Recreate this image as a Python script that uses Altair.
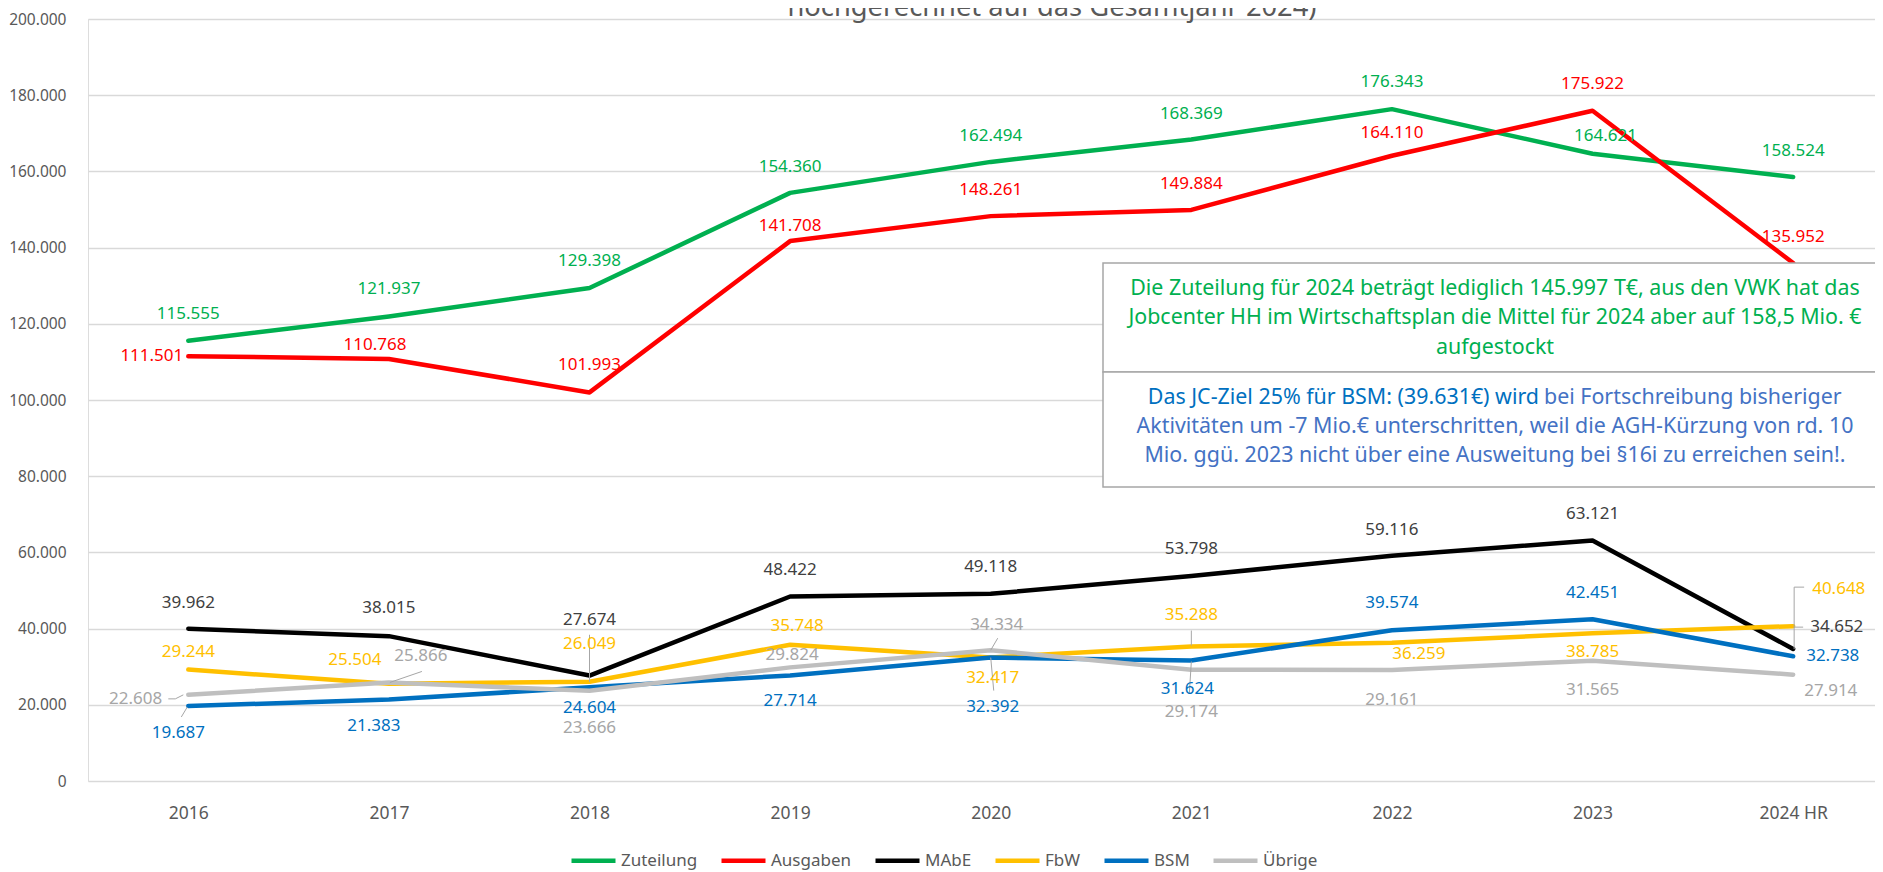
import altair as alt
import pandas as pd

# ---------------- data ----------------
years = ["2016", "2017", "2018", "2019", "2020", "2021", "2022", "2023", "2024 HR"]
series = ["Zuteilung", "Ausgaben", "MAbE", "FbW", "BSM", "Übrige"]
zuteilung = [115555, 121937, 129398, 154360, 162494, 168369, 176343, 164621, 158524]
ausgaben = [111501, 110768, 101993, 141708, 148261, 149884, 164110, 175922, 135952]
mabe = [39962, 38015, 27674, 48422, 49118, 53798, 59116, 63121, 34652]
fbw = [29244, 25504, 26049, 35748, 32417, 35288, 36259, 38785, 40648]
bsm = [19687, 21383, 24604, 27714, 32392, 31624, 39574, 42451, 32738]
uebrige = [22608, 25866, 23666, 29824, 34334, 29174, 29161, 31565, 27914]
values = [zuteilung, ausgaben, mabe, fbw, bsm, uebrige]
y_ticks = [0, 20000, 40000, 60000, 80000, 100000, 120000, 140000, 160000, 180000, 200000]

title_text = "hochgerechnet auf das Gesamtjahr 2024)"
box1_lines = [
    "Die Zuteilung für 2024 beträgt lediglich 145.997 T€, aus den VWK hat das",
    "Jobcenter HH im Wirtschaftsplan die Mittel für 2024 aber auf 158,5 Mio. €",
    "aufgestockt",
]
box2_first_a = "Das JC-Ziel 25% für BSM: (39.631€) wird"
box2_first_b = "bei Fortschreibung bisheriger"
box2_lines = [
    "Aktivitäten um -7 Mio.€ unterschritten, weil die AGH-Kürzung von rd. 10",
    "Mio. ggü. 2023 nicht über eine Ausweitung bei §16i zu erreichen sein!.",
]

# ---------------- styles / layout ----------------
line_colors = ["#00B050", "#FF0000", "#000000", "#FFC000", "#0070C0", "#BFBFBF"]
label_colors = ["#00B050", "#FF0000", "#404040", "#FFC000", "#0070C0", "#A6A6A6"]
FONT = "Noto Sans"
W, H = 1787, 762
PAD = {"left": 80, "top": 11, "right": 0, "bottom": 91}
X_MAX = 8.408
BOX_FS = 21.4

# label offsets (dx, dy, align) per series per year
D = (0, -26, "center")
label_pos = {
    "Zuteilung": [(0, -27, "center"), (0, -27, "center"), (0, -27, "center"), D, D, D,
                  (0, -27, "center"), (13, -18, "center"), D],
    "Ausgaben": [(-5, 0, "right"), (-14, -14, "center"), (0, -27, "center"), (0, -15, "center"),
                 D, D, (0, -23, "center"), (0, -27, "center"), D],
    "MAbE": [D, (0, -28, "center"), (0, -56, "center"), (0, -27, "center"), (0, -27, "center"),
             (0, -27, "center"), D, (0, -27, "center"), (17, -22, "left")],
    "FbW": [(0, -18, "center"), (-34, -24, "center"), (0, -38, "center"), (7, -19, "center"),
            (2, 21, "center"), (0, -32, "center"), (27, 11, "center"), (0, 19, "center"),
            (19, -37, "left")],
    "BSM": [(-10, 27, "center"), (-15, 26, "center"), (0, 21, "center"), (0, 26, "center"),
            (2, 49, "center"), (-4, 28, "center"), (0, -27, "center"), D, (13, 0, "left")],
    "Übrige": [(-26, 4, "right"), (32, -26, "center"), (0, 37, "center"), (2, -12, "center"),
               (6, -25, "center"), (0, 42, "center"), (0, 30, "center"), (0, 29, "center"),
               (11, 16, "left")],
}
# leader lines: (series, year index, dx1, dy1, dx2, dy2)
leaders = [
    ("Übrige", 0, -20, 4, -13, 4), ("Übrige", 0, -13, 4, -5, 0),
    ("BSM", 0, -7, 11, -1, 1),
    ("Übrige", 1, 33, -11, 1, 0),
    ("FbW", 2, 0, -47, 0, 0),
    ("Übrige", 4, 7, -12, 0, 0),
    ("BSM", 4, 0, 0, 3, 33),
    ("FbW", 5, 0, -16, 0, -1),
    ("BSM", 5, 0, 1, -2, 33),
    ("FbW", 8, 1, -39, 1, 23), ("FbW", 8, 1, -39, 11, -39), ("FbW", 8, 1, 1, 10, 1),
]

# ---------------- table ----------------
rows = []
for s, vals in zip(series, values):
    for i, v in enumerate(vals):
        rows.append({"series": s, "idx": i, "year": years[i], "value": v,
                     "label": f"{v:,}".replace(",", "."), "key": f"{s}|{i}"})
df = pd.DataFrame(rows)

year_js = "[" + ",".join(f"'{y}'" for y in years) + "]"
x_enc = alt.X("idx:Q", scale=alt.Scale(domain=[-0.5, X_MAX], nice=False, zero=False),
              axis=alt.Axis(values=list(range(len(years))), labelExpr=f"{year_js}[datum.value]",
                            grid=False, domain=False, ticks=False, title=None, labelPadding=23,
                            labelFontSize=17.5, labelColor="#595959", labelFont=FONT,
                            labelFlush=False, labelOverlap=False))
y_enc = alt.Y("value:Q", scale=alt.Scale(domain=[0, 200000], nice=False, zero=True),
              axis=alt.Axis(values=y_ticks, labelExpr="replace(format(datum.value, ','), ',', '.')",
                            grid=True, gridColor="#D9D9D9", gridWidth=1.5, domain=False, ticks=False,
                            title=None, labelPadding=22, labelFontSize=15.5, labelColor="#595959",
                            labelFont=FONT))
color_enc = alt.Color("series:N", scale=alt.Scale(domain=series, range=line_colors),
                      sort=series,
                      legend=alt.Legend(orient="none", legendX=481, legendY=817,
                                        direction="horizontal", title=None, symbolType="stroke",
                                        symbolSize=1936, symbolStrokeWidth=4.5, labelFontSize=17,
                                        labelColor="#595959", labelFont=FONT, labelOffset=3,
                                        columnPadding=14, padding=0))

base = alt.Chart(df)
layers = []
for s in series:
    layers.append(base.transform_filter(alt.datum.series == s)
                  .mark_line(strokeWidth=4.5, strokeCap="round", strokeJoin="round")
                  .encode(x=x_enc, y=y_enc, color=color_enc))

# annotation boxes
one = alt.Chart(pd.DataFrame({"t": [""]}))
box_x, box_x2 = 1015, 1810
layers.append(one.mark_rect(fill="white", stroke="#A6A6A6", strokeWidth=1.5)
              .encode(x=alt.value(box_x), x2=alt.value(box_x2), y=alt.value(244), y2=alt.value(353)))
layers.append(one.mark_rect(fill="white", stroke="#A6A6A6", strokeWidth=1.5)
              .encode(x=alt.value(box_x), x2=alt.value(box_x2), y=alt.value(353), y2=alt.value(468)))
cx = 1407
for txt, yy in zip(box1_lines, [270, 299, 329]):
    layers.append(alt.Chart(pd.DataFrame({"t": [txt]}))
                  .mark_text(align="center", baseline="middle", fontSize=BOX_FS, font=FONT,
                             color="#00B050")
                  .encode(text="t:N", x=alt.value(cx), y=alt.value(yy)))
layers.append(alt.Chart(pd.DataFrame({"t": [box2_first_a]}))
              .mark_text(align="right", baseline="middle", fontSize=BOX_FS, font=FONT, color="#0070C0")
              .encode(text="t:N", x=alt.value(1451), y=alt.value(379)))
layers.append(alt.Chart(pd.DataFrame({"t": [box2_first_b]}))
              .mark_text(align="left", baseline="middle", fontSize=BOX_FS, font=FONT, color="#4472C4")
              .encode(text="t:N", x=alt.value(1456), y=alt.value(379)))
for txt, yy in zip(box2_lines, [408, 437]):
    layers.append(alt.Chart(pd.DataFrame({"t": [txt]}))
                  .mark_text(align="center", baseline="middle", fontSize=BOX_FS, font=FONT,
                             color="#4472C4")
                  .encode(text="t:N", x=alt.value(cx), y=alt.value(yy)))

# leader lines
for s, i, dx1, dy1, dx2, dy2 in leaders:
    layers.append(base.transform_filter(alt.datum.key == f"{s}|{i}")
                  .mark_rule(color="#A6A6A6", strokeWidth=1, xOffset=dx1, yOffset=dy1,
                             x2Offset=dx2, y2Offset=dy2)
                  .encode(x=x_enc, y=y_enc, x2="idx:Q", y2="value:Q"))

# data labels
for s, col in zip(series, label_colors):
    for i in range(len(years)):
        dx, dy, al = label_pos[s][i]
        layers.append(base.transform_filter(alt.datum.key == f"{s}|{i}")
                      .mark_text(align=al, baseline="middle", dx=dx, dy=dy, fontSize=17,
                                 font=FONT, color=col)
                      .encode(x=x_enc, y=y_enc, text="label:N"))

# title (partly cut at the top like the reference)
layers.append(alt.Chart(pd.DataFrame({"t": [title_text]}))
              .mark_text(align="center", baseline="alphabetic", fontSize=27.3, font=FONT,
                         color="#595959")
              .encode(text="t:N", x=alt.value(964), y=alt.value(-3)))

chart = (alt.layer(*layers)
         .properties(width=W, height=H, autosize=alt.AutoSizeParams(type="none"), padding=PAD,
                     background="white")
         .configure_view(stroke=None)
         .configure(font=FONT))

chart.save("out.html", embed_options={"renderer": "svg", "actions": False})
